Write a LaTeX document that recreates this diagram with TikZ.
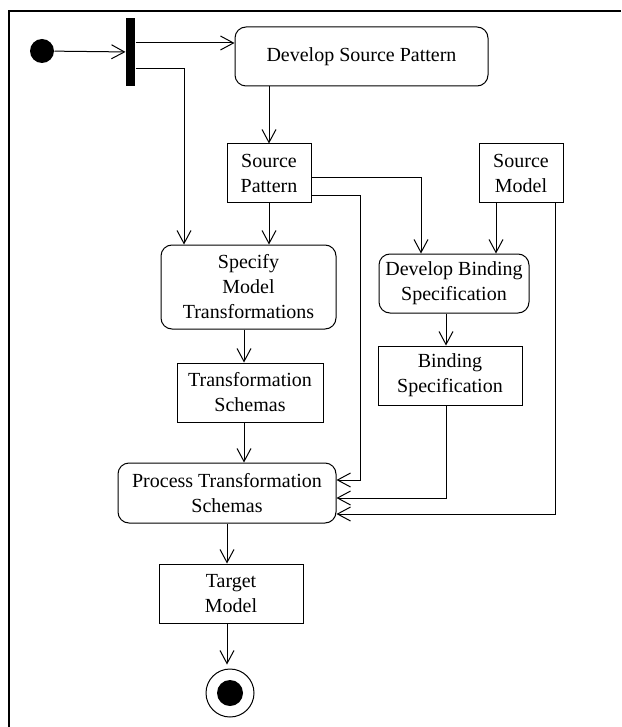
\documentclass[tikz,border=0pt]{standalone}
\usepackage{fontspec}
\setmainfont{Liberation Serif}
\usetikzlibrary{arrows.meta}

\tikzset{
  action/.style={draw, rounded corners=11pt, align=center, inner sep=0pt},
  artifact/.style={draw, align=center, inner sep=0pt},
  flow/.style={-{Straight Barb[length=13pt,width=14pt]}},
}

\begin{document}
\begin{tikzpicture}[x=1pt, y=-1pt, line width=1pt, font=\fontsize{20}{25}\selectfont]
  \useasboundingbox (0,0) rectangle (621,727);
  \draw[line width=2pt] (8.5,727) -- (8.5,11.5) -- (621,11.5);

  \node[circle, fill, inner sep=0pt, minimum size=24pt](init) at (42,51) { };
  \node[fill, inner sep=0pt, minimum width=9pt, minimum height=68pt](fork) at (130.5,52) { };

  \node[action, minimum width=253pt, minimum height=59pt](dsp) at (361.5,56.5) {Develop Source Pattern};
  \node[artifact, minimum width=84pt, minimum height=59pt](sp) at (269,173.5) {Source\\Pattern};
  \node[artifact, minimum width=84pt, minimum height=59pt](sm) at (521,173.5) {Source\\Model};
  \node[action, minimum width=175pt, minimum height=84pt](spec) at (248.5,287) {Specify\\Model\\Transformations};
  \node[action, minimum width=150pt, minimum height=59pt](db) at (454,283.5) {Develop Binding\\Specification};
  \node[artifact, minimum width=144pt, minimum height=59pt](bs) at (450,375.5) {Binding\\Specification};
  \node[artifact, minimum width=146pt, minimum height=59pt](ts) at (250,392.5) {Transformation\\Schemas};
  \node[action, minimum width=218pt, minimum height=60pt](pts) at (227,493) {Process Transformation\\Schemas};
  \node[artifact, minimum width=144pt, minimum height=59pt](tm) at (231,593.5) {Target\\Model};
  \node[circle, draw, inner sep=0pt, minimum size=48pt](fin) at (230,693) { };
  \node[circle, fill, inner sep=0pt, minimum size=26pt](finDot) at (fin) { };

  \draw[flow] (init) -- (fork);
  \draw[flow] ([yshift=9pt]fork.east) -- ([yshift=9pt]fork.east -| dsp.west);
  \draw[flow] ([yshift=-17pt]fork.east) -| ([xshift=-64.5pt]spec.north);
  \draw[flow] (sp.north |- dsp.south) -- (sp.north);
  \draw[flow] (sp.south) -- (sp.south |- spec.north);
  \draw[flow] ([yshift=-4.5pt]sp.east) -| ([xshift=-33pt]db.north);
  \draw[flow] ([yshift=-22.5pt]sp.east) -- ++(49,0) |- ([yshift=13pt]pts.east);
  \draw[flow] ([xshift=-25pt]sm.south) -- ([xshift=-25pt]sm.south |- db.north);
  \draw[flow] ([xshift=34pt]sm.south) |- ([yshift=-21pt]pts.east);
  \draw[flow] ([xshift=-4pt]bs.north |- db.south) -- ([xshift=-4pt]bs.north);
  \draw[flow] ([xshift=-4pt]bs.south) |- ([yshift=-5pt]pts.east);
  \draw[flow] ([xshift=-6pt]ts.north |- spec.south) -- ([xshift=-6pt]ts.north);
  \draw[flow] ([xshift=-6pt]ts.south) -- ([xshift=-6pt]ts.south |- pts.north);
  \draw[flow] (pts.south) -- (pts.south |- tm.north);
  \draw[flow, shorten >=4pt] (pts.south |- tm.south) -- (pts.south |- fin.north);
\end{tikzpicture}
\end{document}
